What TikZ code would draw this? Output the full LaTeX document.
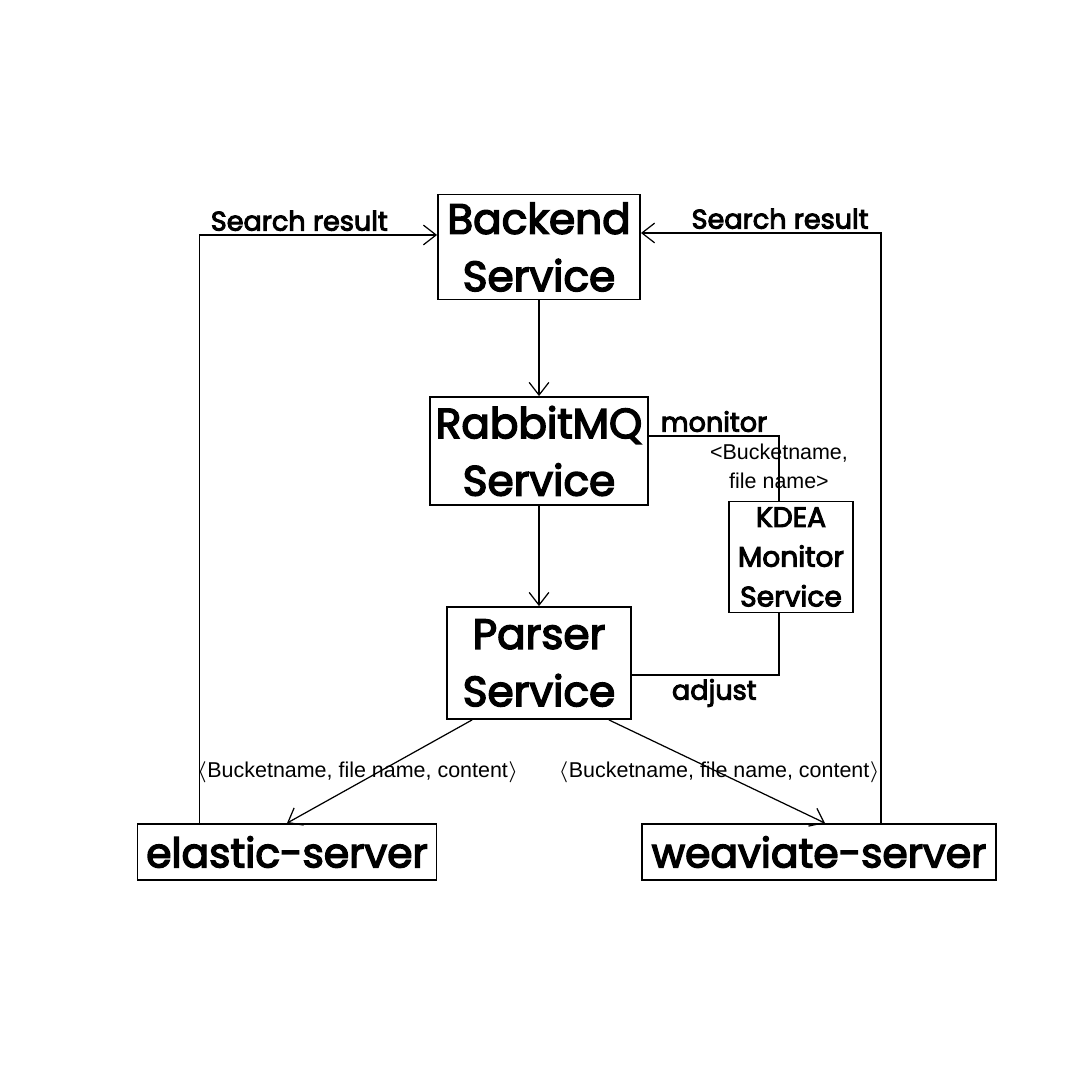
\documentclass[tikz,border=0pt]{standalone}
\usepackage{fontspec}
\setmainfont{Poppins}
\newfontfamily\headfont{Poppins}[FakeBold=3.5]
\newfontfamily\tagfont{Liberation Sans}
\usetikzlibrary{arrows.meta}
\tikzset{>={Straight Barb[length=3.6pt,width=5.6pt]}}
\tikzset{
    service/.style={draw, line width=0.5pt, inner sep=0pt, align=center, font=\headfont\fontsize{12}{16.3}\selectfont},
    server/.style={service, minimum height=0.56cm, font=\headfont\fontsize{11.6}{14}\selectfont},
    link/.style={line width=0.35pt},
    tag/.style={font=\headfont\fontsize{7.7}{9}\selectfont, inner sep=1pt},
    payload/.style={font=\tagfont\fontsize{6.1}{8.2}\selectfont, inner sep=0pt, align=center}
}

\begin{document}
\begin{tikzpicture}[x=0.01cm, y=-0.01cm]
    \useasboundingbox[fill=white](0, 0) rectangle (1080, 1080);
    \node[service, minimum width=2.02cm, minimum height=1.05cm](backend)at(539, 247){Backend\\Service};
    \node[service, minimum width=2.18cm, minimum height=1.08cm](rabbit)at(539, 451){RabbitMQ\\Service};
    \node[service, minimum width=1.84cm, minimum height=1.12cm](parser)at(539, 663){Parser\\Service};
    \node[service, minimum width=1.24cm, minimum height=1.11cm, font=\headfont\fontsize{8}{11.3}\selectfont](kdea)at(791, 557){KDEA\\Monitor\\Service};
    \node[server, minimum width=2.99cm](elastic)at(287, 852){elastic-server};
    \node[server, minimum width=3.54cm](weaviate)at(819, 852){weaviate-server};

    \draw[link, ->](backend)--(rabbit);
    \draw[link, ->](rabbit)--(parser);
    \draw[link]([yshift=-0.4cm]rabbit.north east)-|([xshift=-0.12cm]kdea.north)
        node[pos=0.25, above, tag]{monitor}
        node[pos=0.75, yshift=0.02cm, payload]{<Bucketname,\\file name>};
    \draw[link]([xshift=-0.12cm]kdea.south)|-([yshift=-0.12cm]parser.east)
        node[pos=0.72, below, tag]{adjust};
    \draw[link, ->]([xshift=0.26cm]parser.south west)--(elastic.north)
        node[pos=0.51, xshift=-0.2cm, payload]{$\langle$Bucketname, file name, content$\rangle$};
    \draw[link, ->]([xshift=-0.23cm]parser.south east)--([xshift=0.06cm]weaviate.north)
        node[pos=0.51, payload]{$\langle$Bucketname, file name, content$\rangle$};
    \draw[link, ->]([xshift=0.63cm]elastic.north west)|-([yshift=0.12cm]backend.west)
        node[pos=0.71, above, tag]{Search result};
    \draw[link, ->]([xshift=-1.16cm]weaviate.north east)|-([yshift=0.14cm]backend.east)
        node[pos=0.71, above, tag]{Search result};
\end{tikzpicture}
\end{document}
